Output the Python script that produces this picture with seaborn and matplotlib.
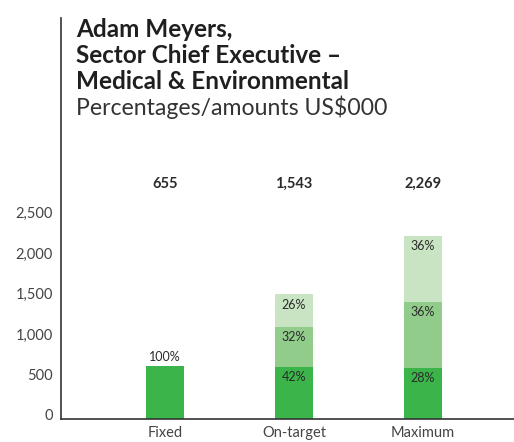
import matplotlib
matplotlib.use("Agg")
import matplotlib.pyplot as plt
import matplotlib.transforms as mtransforms
import numpy as np
import pandas as pd
import seaborn as sns

# Remuneration scenarios (US$000) and the share of each pay element
categories = ["Fixed", "On-target", "Maximum"]
totals = [655, 1543, 2269]
fixed_pct = [100, 42, 28]
annual_pct = [0, 32, 36]
longterm_pct = [0, 26, 36]
tick_values = [0, 500, 1000, 1500, 2000, 2500]
tick_labels = ["0", "500", "1,000", "1,500", "2,000", "2,500"]

colors = ["#3bb54a", "#91cc8b", "#c9e4c3"]
text_dark = "#2b2b2b"

sns.set_theme(style="white")
plt.rcParams["font.family"] = ["Lato", "DejaVu Sans"]

tot = np.array(totals, dtype=float)
seg = [tot * np.array(p) / 100.0 for p in (fixed_pct, annual_pct, longterm_pct)]
cum = np.cumsum(np.vstack(seg), axis=0)
pcts = [fixed_pct, annual_pct, longterm_pct]

W, H = 514, 442
fig = plt.figure(figsize=(W / 100, H / 100), dpi=100)
ax_left, ax_bottom, ax_top = 61, 419, 18
ax = fig.add_axes([ax_left / W, (H - ax_bottom) / H,
                   (W - ax_left) / W, (ax_bottom - ax_top) / H])

# Stacked bars: draw the cumulative heights from the top layer down
for layer in (2, 1, 0):
    df = pd.DataFrame({"scenario": categories, "value": cum[layer]})
    sns.barplot(data=df, x="scenario", y="value", color=colors[layer],
                saturation=1, width=0.295, ax=ax, linewidth=0, errorbar=None)

ymax = (ax_bottom - ax_top) / 40.4 * 500
ax.set_ylim(0, ymax)
ax.set_xlim(-0.806, 2.705)
ax.set_xlabel("")
ax.set_ylabel("")

ax.set_yticks(tick_values)
ax.set_yticklabels(tick_labels)
ax.tick_params(axis="y", length=0, pad=6, labelsize=10.5, labelcolor="#444444")
ax.tick_params(axis="x", length=0, pad=5, labelsize=10.5, labelcolor="#444444")
shift = mtransforms.ScaledTranslation(0, 3 / 72, fig.dpi_scale_trans)
for lbl in ax.get_yticklabels():
    lbl.set_transform(lbl.get_transform() + shift)

for side in ("top", "right"):
    ax.spines[side].set_visible(False)
for side in ("left", "bottom"):
    ax.spines[side].set_color("#333333")
    ax.spines[side].set_linewidth(1.2)

# Percentage labels inside (or above) each segment
for layer in range(3):
    for i in range(len(categories)):
        p = pcts[layer][i]
        if p == 0:
            continue
        if p == 100:
            ax.annotate(f"{p}%", (i, cum[layer][i]), xytext=(0, 2),
                        textcoords="offset points", ha="center", va="bottom",
                        fontsize=9, color=text_dark)
        else:
            ax.annotate(f"{p}%", (i, cum[layer][i]), xytext=(0, -7.5),
                        textcoords="offset points", ha="center", va="center",
                        fontsize=9, color=text_dark)

# Scenario totals
total_y = (ax_bottom - 184) / (ax_bottom - ax_top)
blend = mtransforms.blended_transform_factory(ax.transData, ax.transAxes)
for i, t in enumerate(totals):
    ax.text(i, total_y, f"{t:,}", transform=blend, ha="center", va="center",
            fontsize=10.5, fontweight="bold", color=text_dark)

# Heading
title_lines = ["Adam Meyers,", "Sector Chief Executive \u2013", "Medical & Environmental"]
for k, line in enumerate(title_lines):
    fig.text(76 / W, 1 - (37 + 26 * k) / H, line, ha="left", va="baseline",
             fontsize=17.5, fontweight="bold", color="#1f1f1f")
fig.text(76 / W, 1 - 115 / H, "Percentages/amounts US$000", ha="left",
         va="baseline", fontsize=16.6, fontweight="normal", color="#333333")

fig.savefig("out.png", dpi=100)
